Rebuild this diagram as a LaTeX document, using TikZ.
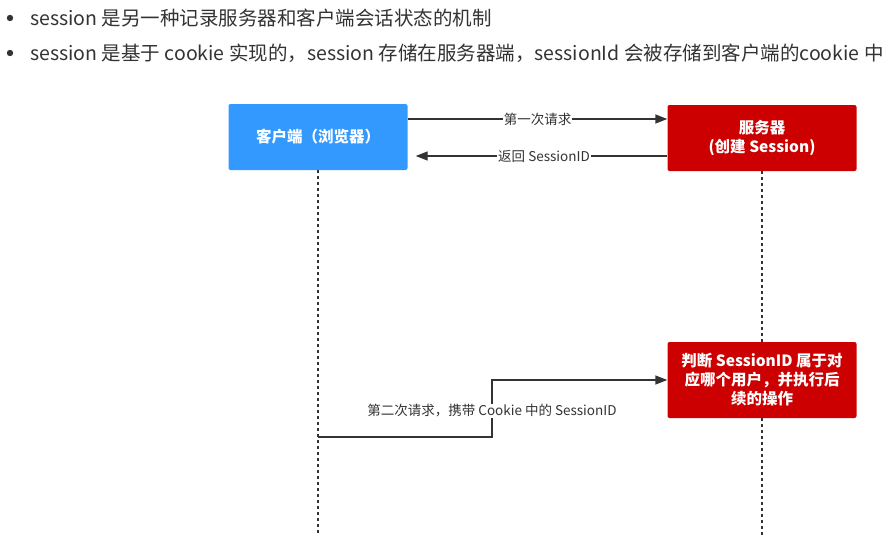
\documentclass[tikz,border=0pt]{standalone}
\usepackage{fontspec}
\setmainfont{Noto Sans CJK SC}
\usepackage{tikz}
\usetikzlibrary{positioning,arrows.meta}
\usepackage{xcolor}
\definecolor{clientblue}{HTML}{3399FF}
\definecolor{serverred}{HTML}{CC0000}
\definecolor{inkgray}{HTML}{333333}

\begin{document}
\begin{tikzpicture}[x=1pt,y=-1pt,>={Triangle[length=12pt,width=9pt]},
  actor/.style={draw=none,rounded corners=2pt,text=white,font=\fontsize{15.5}{19}\selectfont\bfseries,
    minimum height=66pt,align=center,inner sep=2pt},
  msg/.style={->,draw=inkgray,line width=1.4pt},
  msglabel/.style={fill=white,inner sep=1pt,text=inkgray,font=\fontsize{13.5}{16}\selectfont},
  bullettext/.style={anchor=west,text=inkgray,font=\fontsize{19.5}{22}\selectfont},
  lifeline/.style={draw=inkgray,line width=1.6pt,dash pattern=on 2.5pt off 3.5pt}]
\useasboundingbox (0,0) rectangle (895,536);
% bullets
\fill[inkgray] (10,18) circle (3.2pt);
\node[bullettext,inner sep=0pt] (t1) at (30,18) {session 是另一种记录服务器和客户端会话状态的机制};
\fill[inkgray] (10,53) circle (3.2pt);
\node[bullettext,inner sep=0pt] (t2) at (30,53) {session 是基于 cookie 实现的，session 存储在服务器端，sessionId 会被存储到客户端的cookie 中};
% actors
\node[actor,fill=clientblue,minimum width=179pt] (client) at (318,137) {客户端（浏览器）};
\node[actor,fill=serverred,minimum width=189pt] (server) at (762,138) {服务器\\(创建 Session)};
\node[actor,fill=serverred,minimum width=189pt,minimum height=76pt] (check) at (762,380) {判断 SessionID 属于对\\应哪个用户，并执行后\\续的操作};
% lifelines
\coordinate (cend) at (318,536);
\coordinate (send) at (762,536);
\draw[lifeline] (client.south) -- (cend);
\draw[lifeline] (server.south) -- (check.north);
\draw[lifeline] (check.south) -- (send);
% messages
\draw[msg] (client.east |- 0,119) -- node[msglabel] {第一次请求} (server.west |- 0,119);
\draw[msg] (server.west |- 0,156) -- node[msglabel,pos=0.49] {返回 SessionID} ([xshift=8pt]client.east |- 0,156);
\coordinate (c2) at (318,437);
\coordinate (bend) at (492,437);
\draw[msg] (c2) -- (bend) -- (bend |- check.west) -- (check.west);
\node[msglabel] (lbl3) at (492,411) {第二次请求，携带 Cookie 中的 SessionID};
\end{tikzpicture}
\end{document}
